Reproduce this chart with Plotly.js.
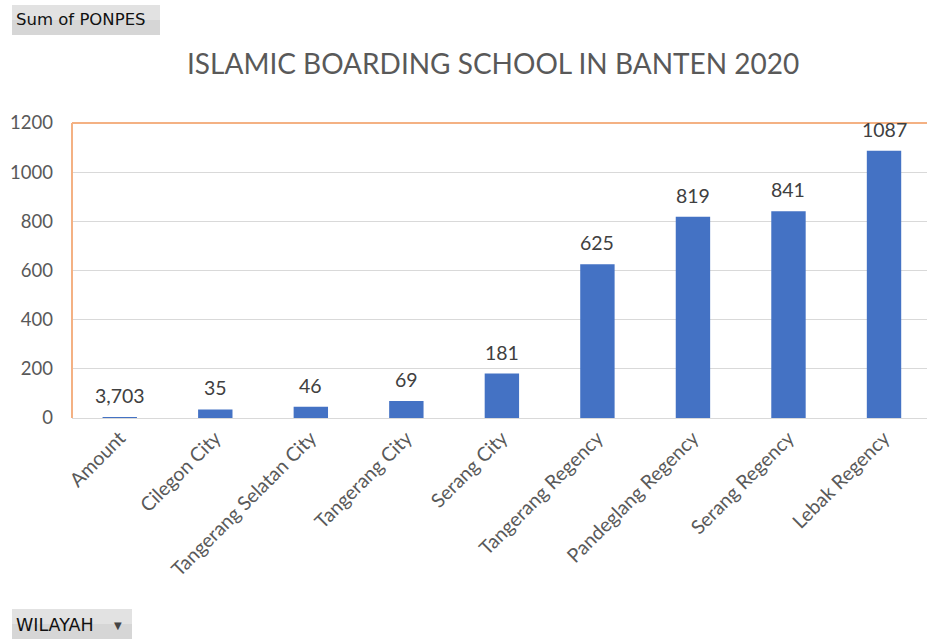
<!DOCTYPE html>
<html><head><meta charset="utf-8">
<script src="https://cdn.plot.ly/plotly-3.0.1.min.js"></script>
<style>html,body{margin:0;padding:0;background:#fff;}#chart{width:927px;height:639px;}</style>
</head><body><div id="chart"></div>
<script>
const categories = ["Amount","Cilegon City","Tangerang Selatan City","Tangerang City","Serang City","Tangerang Regency","Pandeglang Regency","Serang Regency","Lebak Regency"];
const values = [3.703, 35, 46, 69, 181, 625, 819, 841, 1087];
const valueLabels = ["3,703","35","46","69","181","625","819","841","1087"];
const yTicks = [0,200,400,600,800,1000,1200];

const font = "Lato, 'Liberation Sans', sans-serif";
const btnFont = "'DejaVu Sans', 'Liberation Sans', sans-serif";
const L = 72, R = 927, T = 123, B = 418;
const px = v => (v - L) / (R - L);
const py = v => (B - v) / (B - T);

const annotations = categories.map((c,i)=>({
  x: c, y: values[i], xref:'x', yref:'y', text: valueLabels[i], showarrow:false,
  yanchor:'bottom', yshift: 8, font:{family:font, size:19.5, color:'#404040'}
}));
annotations.push({
  xref:'paper', yref:'paper', x:px(14), y:py(20), xanchor:'left', yanchor:'middle',
  text:'Sum of PONPES', showarrow:false,
  font:{family:btnFont, size:16.5, color:'#111'}
});
annotations.push({
  xref:'paper', yref:'paper', x:px(14), y:py(625), xanchor:'left', yanchor:'middle',
  text:'WILAYAH', showarrow:false,
  font:{family:btnFont, size:17.5, color:'#111'}
});
annotations.push({
  xref:'paper', yref:'paper', x:px(118), y:py(625), xanchor:'center', yanchor:'middle',
  text:'▼', showarrow:false,
  font:{family:btnFont, size:10, color:'#444'}
});

const data = [{
  type:'bar', x: categories, y: values, marker:{color:'#4472C4'}, hoverinfo:'x+y'
}];
const layout = {
  width:927, height:639,
  margin:{l:L, r:927-R, t:T, b:639-B},
  paper_bgcolor:'#fff', plot_bgcolor:'#fff',
  bargap:0.64,
  showlegend:false,
  title:{text:'ISLAMIC BOARDING SCHOOL IN BANTEN 2020', x:0.532, xanchor:'center', y:1-64/639, yanchor:'middle',
    font:{family:font, size:28, color:'#595959'}},
  xaxis:{type:'category', range:[-0.5, 8.45], tickangle:-45, showgrid:false, showline:true, linecolor:'#d9d9d9', linewidth:1,
    ticks:'', tickfont:{family:font, size:19.5, color:'#595959'}, fixedrange:true},
  yaxis:{range:[0,1200], tickvals:yTicks, ticktext:yTicks.map(String), showgrid:true, gridcolor:'#d9d9d9', gridwidth:1,
    zeroline:false, showline:false, ticks:'', ticklabelstandoff:18,
    tickfont:{family:font, size:18.5, color:'#595959'}, fixedrange:true},
  shapes:[
    {type:'line', xref:'paper', yref:'paper', x0:0, x1:1, y0:1, y1:1, line:{color:'#F4B183', width:2}},
    {type:'line', xref:'paper', yref:'paper', x0:0, x1:0, y0:0, y1:1, line:{color:'#F4B183', width:2}},
    {type:'rect', xref:'paper', yref:'paper', x0:px(12), x1:px(160), y0:py(35), y1:py(5), fillcolor:'#d6d6d6', line:{width:0}, layer:'below'},
    {type:'rect', xref:'paper', yref:'paper', x0:px(12), x1:px(160), y0:py(20), y1:py(5), fillcolor:'#e2e2e2', line:{width:0}, layer:'below'},
    {type:'rect', xref:'paper', yref:'paper', x0:px(12), x1:px(132), y0:py(639), y1:py(609), fillcolor:'#d6d6d6', line:{width:0}, layer:'below'},
    {type:'rect', xref:'paper', yref:'paper', x0:px(12), x1:px(132), y0:py(624), y1:py(609), fillcolor:'#e2e2e2', line:{width:0}, layer:'below'}
  ],
  annotations: annotations
};
Plotly.newPlot('chart', data, layout, {displayModeBar:false, staticPlot:true});
</script></body></html>
